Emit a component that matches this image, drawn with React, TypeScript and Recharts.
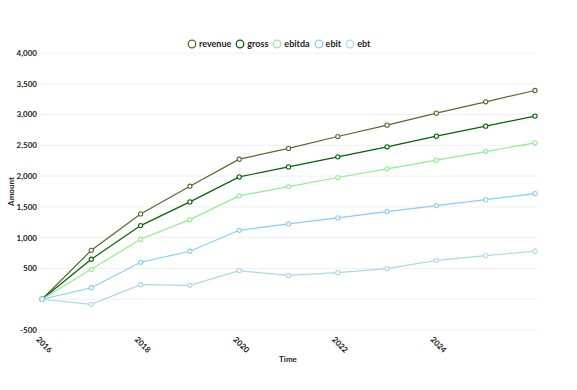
import React from "react";
import { LineChart, Line, XAxis, YAxis, CartesianGrid } from "recharts";

const years = [2016, 2017, 2018, 2019, 2020, 2021, 2022, 2023, 2024, 2025, 2026];
const revenue = [0, 795, 1386, 1836, 2275, 2450, 2643, 2828, 3023, 3207, 3391];
const gross = [0, 649, 1196, 1581, 1987, 2150, 2313, 2476, 2649, 2812, 2975];
const ebitda = [0, 486, 974, 1293, 1679, 1830, 1977, 2118, 2259, 2399, 2541];
const ebit = [0, 187, 600, 779, 1120, 1223, 1321, 1423, 1521, 1618, 1716];
const ebt = [0, -83, 236, 226, 464, 386, 432, 497, 632, 708, 779];

const xTicks = [2016, 2018, 2020, 2022, 2024];
const yTicks = [-500, 0, 500, 1000, 1500, 2000, 2500, 3000, 3500, 4000];

const seriesNames = ["revenue", "gross", "ebitda", "ebit", "ebt"];
const seriesColors = ["#556b2f", "#006400", "#90ee90", "#87cefa", "#add8e6"];
const seriesValues = [revenue, gross, ebitda, ebit, ebt];

const data = years.map((y, i) => {
  const row: Record<string, number> = { year: y };
  seriesNames.forEach((n, k) => {
    row[n] = seriesValues[k][i];
  });
  return row;
});

const FONT = "Lato, 'Open Sans', sans-serif";

const XTick = (props: any) => {
  const { x, y, payload } = props;
  return (
    <text
      x={x}
      y={y}
      transform={`rotate(45, ${x}, ${y})`}
      textAnchor="start"
      fontSize={8}
      fontWeight={700}
      fontFamily={FONT}
      fill="#222"
      dx={-3}
      dy={6}
    >
      {payload.value}
    </text>
  );
};

const fmt = (v: number) => (v === 0 ? "" : v.toLocaleString("en-US"));

export default function App() {
  return (
    <div style={{ position: "absolute", left: 0, top: 0, width: 577, height: 390, background: "#fff" }}>
      <LineChart
        width={577}
        height={390}
        data={data}
        margin={{ top: 53, right: 40, bottom: 0, left: 0 }}
      >
        <CartesianGrid vertical={false} stroke="#f0f0f0" />
        <XAxis
          dataKey="year"
          type="number"
          domain={[2016, 2026]}
          ticks={xTicks}
          height={60}
          axisLine={false}
          tickLine={false}
          padding={{ left: 3, right: 2 }}
          tick={<XTick />}
          interval={0}
          label={{
            value: "Time",
            position: "center",
            dy: -1,
            style: { fontSize: 8, fontWeight: 700, fontFamily: FONT, fill: "#222" },
          }}
        />
        <YAxis
          width={39}
          domain={[-500, 4000]}
          ticks={yTicks}
          axisLine={false}
          tickLine={false}
          tickSize={0}
          tickMargin={2}
          interval={0}
          tickFormatter={fmt}
          tick={{ fontSize: 8, fontWeight: 700, fontFamily: FONT, fill: "#222" }}
          label={{
            value: "Amount",
            angle: -90,
            position: "center",
            dx: -8,
            style: { fontSize: 8, fontWeight: 700, fontFamily: FONT, fill: "#222" },
          }}
        />
        {seriesNames.map((n, k) => (
          <Line
            key={n}
            dataKey={n}
            stroke={seriesColors[k]}
            strokeWidth={1.2}
            dot={{ r: 2.1, fill: "#fff", stroke: seriesColors[k], strokeWidth: 1.1 }}
            isAnimationActive={false}
            type="linear"
          />
        ))}
      </LineChart>
      <div
        style={{
          position: "absolute",
          top: 38,
          left: 187,
          display: "flex",
          alignItems: "center",
          fontFamily: FONT,
          fontSize: 9,
          fontWeight: 700,
          color: "#222",
          whiteSpace: "nowrap",
        }}
      >
        {seriesNames.map((n, k) => (
          <div key={n} style={{ display: "flex", alignItems: "center", marginRight: 4 }}>
            <svg width={10} height={10} style={{ marginRight: 2 }}>
              <circle cx={5} cy={5} r={3.8} fill="none" stroke={seriesColors[k]} strokeWidth={1.3} />
            </svg>
            <span>{n}</span>
          </div>
        ))}
      </div>
    </div>
  );
}
